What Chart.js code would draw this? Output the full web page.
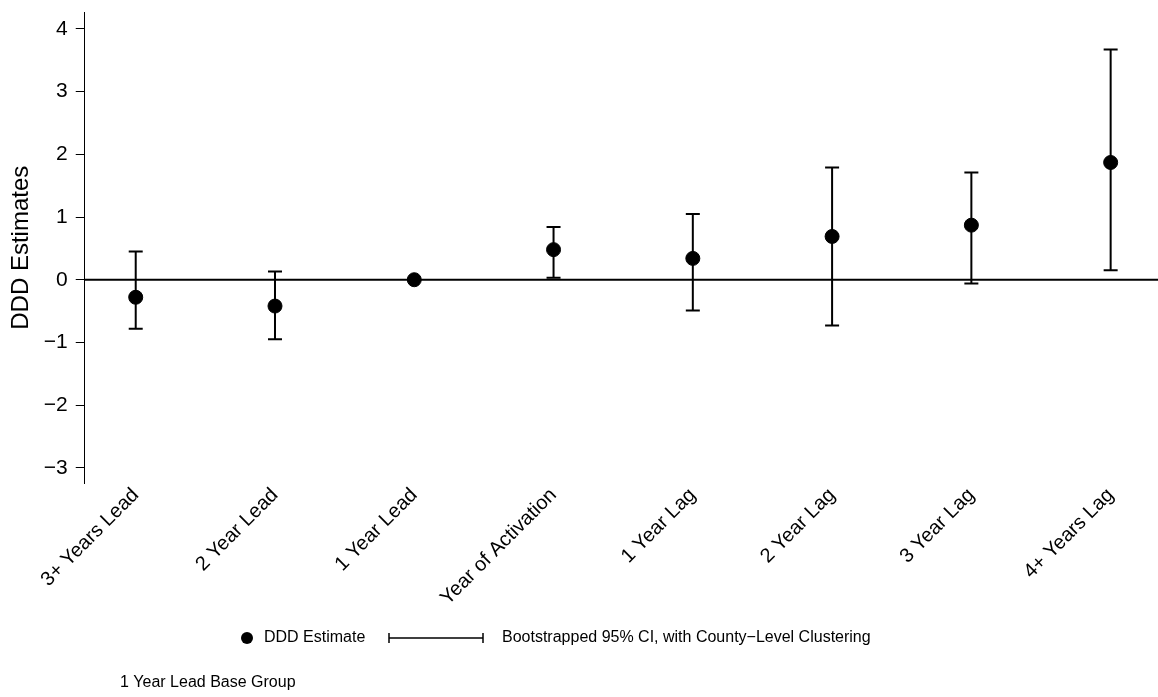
<!DOCTYPE html>
<html>
<head>
<meta charset="utf-8">
<script src="https://cdn.jsdelivr.net/npm/chart.js@4/dist/chart.umd.min.js"></script>
<style>
  html, body { margin: 0; padding: 0; background: #fff; }
  #wrap { width: 1158px; height: 697px; }
</style>
</head>
<body>
<div id="wrap"><canvas id="grafico"></canvas></div>
<script>
// datos
var categorias = ['3+ Years Lead', '2 Year Lead', '1 Year Lead', 'Year of Activation',
                  '1 Year Lag', '2 Year Lag', '3 Year Lag', '4+ Years Lag'];
var estimados = [-0.28, -0.42, 0.00, 0.48, 0.34, 0.69, 0.87, 1.87];
var ci_alto   = [0.45, 0.13, null, 0.84, 1.05, 1.79, 1.71, 3.67];
var ci_bajo   = [-0.78, -0.95, null, 0.03, -0.49, -0.73, -0.06, 0.15];
var y_ticks   = [-3, -2, -1, 0, 1, 2, 3, 4];

var fuente = "'Liberation Sans', Arial, Helvetica, sans-serif";
var puntos = estimados.map((v, i) => ({ x: i, y: v }));

// linea horizontal en cero y barras de error
var extras = {
    id: 'extras',
    afterDatasetsDraw(chart) {
        var c = chart.ctx;
        var xs = chart.scales.x, ys = chart.scales.y, area = chart.chartArea;
        c.save();
        c.strokeStyle = '#000';
        c.lineWidth = 2;
        var y0 = ys.getPixelForValue(0);
        c.beginPath();
        c.moveTo(area.left, y0);
        c.lineTo(chart.width, y0);
        c.stroke();
        for (var i = 0; i < categorias.length; i++) {
            if (ci_alto[i] === null) continue;
            var px = xs.getPixelForValue(i);
            var ya = ys.getPixelForValue(ci_alto[i]);
            var yb = ys.getPixelForValue(ci_bajo[i]);
            c.beginPath();
            c.moveTo(px, ya); c.lineTo(px, yb);
            c.moveTo(px - 7, ya); c.lineTo(px + 7, ya);
            c.moveTo(px - 7, yb); c.lineTo(px + 7, yb);
            c.stroke();
        }
        c.restore();
    },
    afterDraw(chart) {
        var c = chart.ctx;
        c.save();
        c.fillStyle = '#000';
        c.strokeStyle = '#000';
        c.font = '16px ' + fuente;
        c.textBaseline = 'middle';
        var yl = 638;
        // leyenda
        c.beginPath();
        c.arc(247, yl, 6, 0, Math.PI * 2);
        c.fill();
        c.fillText('DDD Estimate', 264, yl);
        c.lineWidth = 1.5;
        c.beginPath();
        c.moveTo(389, yl); c.lineTo(483, yl);
        c.moveTo(389, yl - 5); c.lineTo(389, yl + 5);
        c.moveTo(483, yl - 5); c.lineTo(483, yl + 5);
        c.stroke();
        c.fillText('Bootstrapped 95% CI, with County\u2212Level Clustering', 502, yl);
        // nota
        c.fillText('1 Year Lead Base Group', 120, 683);
        c.restore();
    }
};

var chart_ddd = new Chart(document.getElementById('grafico').getContext('2d'), {
    type: 'scatter',
    data: {
        datasets: [{
            label: 'DDD Estimate',
            data: puntos,
            backgroundColor: '#000',
            borderColor: '#000',
            pointRadius: 7,
            pointHoverRadius: 7,
        }]
    },
    options: {
        responsive: true,
        maintainAspectRatio: false,
        animation: false,
        layout: { autoPadding: false, padding: { top: 12, right: 0, bottom: 95, left: 7 } },
        plugins: { legend: { display: false }, tooltip: { enabled: false } },
        scales: {
            x: {
                type: 'linear',
                min: -0.366,
                max: 7.34,
                afterBuildTicks: (scale) => { scale.ticks = categorias.map((c, i) => ({ value: i })); },
                afterFit: (scale) => { scale.paddingRight = 0; },
                ticks: {
                    autoSkip: false,
                    maxRotation: 45,
                    minRotation: 45,
                    padding: -8,
                    color: '#000',
                    font: { family: fuente, size: 20 },
                    callback: (v) => categorias[v]
                },
                grid: { display: false },
                border: { display: false }
            },
            y: {
                min: -3.25,
                max: 4.27,
                afterBuildTicks: (scale) => { scale.ticks = y_ticks.map(v => ({ value: v })); },
                afterFit: (scale) => { scale.paddingTop = 0; scale.paddingBottom = 0; },
                ticks: {
                    color: '#000',
                    padding: 8,
                    font: { family: fuente, size: 21 },
                    callback: (v) => String(v).replace('-', '\u2212')
                },
                grid: { drawOnChartArea: false, drawTicks: true, tickLength: 9, color: '#000', lineWidth: 1 },
                border: { display: true, color: '#000', width: 1 },
                title: {
                    display: true,
                    text: 'DDD Estimates',
                    color: '#000',
                    padding: { top: 0, bottom: 0 },
                    font: { family: fuente, size: 24 }
                }
            }
        }
    },
    plugins: [extras]
});
</script>
</body>
</html>
